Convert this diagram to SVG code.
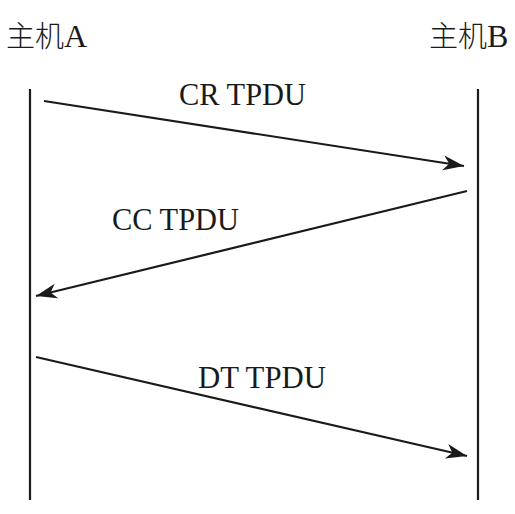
<svg xmlns="http://www.w3.org/2000/svg" width="515" height="514" viewBox="0 0 515 514">
<style>
.t{font-family:"Liberation Serif","Noto Sans CJK SC",serif;font-size:32px;fill:#1a1a1a}
.h{font-family:"Noto Sans CJK SC","Liberation Serif",serif;font-size:29px;fill:#1a1a1a;font-weight:300}
.l{stroke:#1a1a1a;stroke-width:2.2;fill:none}
</style>
<defs>
<marker id="ah" markerUnits="userSpaceOnUse" markerWidth="24" markerHeight="18" viewBox="-22 -9 24 18" refX="0" refY="0" orient="auto">
<path d="M0,0 L-21,-7.5 L-15,0 L-21,7.5 Z" fill="#1a1a1a"/>
</marker>
</defs>
<g id="hostA">
<text class="h" x="6" y="47">主机<tspan class="t" style="font-size:32px">A</tspan></text>
<line class="l" x1="30" y1="89" x2="30" y2="500"/>
</g>
<g id="hostB">
<text class="h" x="429" y="47">主机<tspan class="t" style="font-size:32px">B</tspan></text>
<line class="l" x1="478" y1="89" x2="478" y2="500"/>
</g>
<g id="connectors">
<line class="l" x1="44" y1="101" x2="464" y2="166" marker-end="url(#ah)"/>
<line class="l" x1="467" y1="191" x2="36" y2="296" marker-end="url(#ah)"/>
<line class="l" x1="36" y1="357" x2="467" y2="456" marker-end="url(#ah)"/>
</g>
<g id="labels">
<text class="t" x="179" y="105" textLength="127" lengthAdjust="spacingAndGlyphs">CR TPDU</text>
<text class="t" x="112" y="230" textLength="127" lengthAdjust="spacingAndGlyphs">CC TPDU</text>
<text class="t" x="198" y="388" textLength="128" lengthAdjust="spacingAndGlyphs">DT TPDU</text>
</g>
</svg>
